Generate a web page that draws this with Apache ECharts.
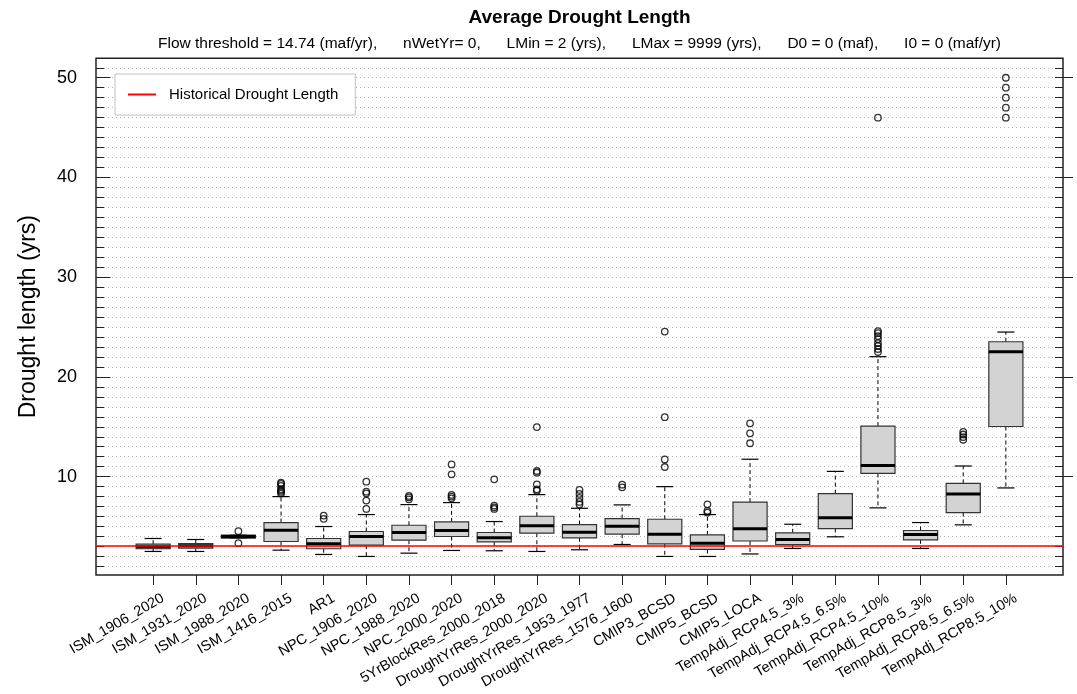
<!DOCTYPE html>
<html>
<head>
<meta charset="utf-8">
<script src="https://cdn.jsdelivr.net/npm/echarts@6/dist/echarts.min.js"></script>
<style>
html,body{margin:0;padding:0;background:#fff;}
#chart{width:1077px;height:694px;}
</style>
</head>
<body>
<div id="chart"></div>
<script>
// ---------------- data ----------------
const categories = [
  'ISM_1906_2020','ISM_1931_2020','ISM_1988_2020','ISM_1416_2015','AR1',
  'NPC_1906_2020','NPC_1988_2020','NPC_2000_2020','5YrBlockRes_2000_2018',
  'DroughtYrRes_2000_2020','DroughtYrRes_1953_1977','DroughtYrRes_1576_1600',
  'CMIP3_BCSD','CMIP5_BCSD','CMIP5_LOCA','TempAdj_RCP4.5_3%','TempAdj_RCP4.5_6.5%',
  'TempAdj_RCP4.5_10%','TempAdj_RCP8.5_3%','TempAdj_RCP8.5_6.5%','TempAdj_RCP8.5_10%'
];
const whiskerLow  = [2.5, 2.5, 3.83, 2.63, 2.2, 2.0, 2.33, 2.6, 2.57, 2.5, 2.67, 3.2, 2.0, 2.0, 2.25, 2.8, 3.97, 6.87, 2.8, 5.17, 8.87];
const quartile1   = [2.77, 2.83, 3.83, 3.5, 2.77, 3.13, 3.63, 4.0, 3.47, 4.33, 3.87, 4.23, 3.27, 2.7, 3.55, 3.2, 4.8, 10.33, 3.67, 6.4, 15.03];
const medians     = [2.97, 3.07, 4.0, 4.63, 3.27, 4.0, 4.4, 4.6, 3.87, 5.07, 4.43, 5.03, 4.23, 3.33, 4.78, 3.7, 5.87, 11.13, 4.2, 8.27, 22.53];
const quartile3   = [3.23, 3.3, 4.13, 5.4, 3.8, 4.5, 5.13, 5.47, 4.4, 6.03, 5.2, 5.8, 5.73, 4.17, 7.45, 4.37, 8.3, 15.07, 4.6, 9.33, 23.53];
const whiskerHigh = [3.8, 3.7, 4.13, 8.0, 5.0, 6.2, 7.2, 7.4, 5.5, 8.2, 6.83, 7.17, 9.0, 6.2, 11.75, 5.23, 10.53, 22.03, 5.4, 11.07, 24.5];
const outliers = [
  [],
  [],
  [4.53, 3.33],
  [8.3, 8.47, 8.6, 8.73, 9.07, 9.27, 9.4],
  [5.77, 6.1],
  [6.77, 7.6, 8.33, 8.5, 9.5],
  [7.73, 7.93, 8.07],
  [7.83, 8.0, 8.17, 10.23, 11.23],
  [6.77, 6.93, 7.1, 9.73],
  [8.6, 8.73, 9.23, 10.4, 10.57, 14.97],
  [7.2, 7.47, 7.87, 8.27, 8.67],
  [8.93, 9.2],
  [10.97, 11.73, 15.97, 24.55],
  [6.4, 6.57, 7.23],
  [13.35, 14.35, 15.35],
  [],
  [],
  [22.5, 22.8, 23.1, 23.4, 23.8, 24.1, 24.4, 24.6, 46.0],
  [],
  [13.7, 13.97, 14.23, 14.5],
  [46, 47, 48, 49, 50]
];
const historicalLength = 3.07;
const yMajorTicks = [10, 20, 30, 40, 50];
const yMinorTicks = [1,2,3,4,5,6,7,8,9,10,11,12,13,14,15,16,17,18,19,20,21,22,23,24,25,26,27,28,29,30,31,32,33,34,35,36,37,38,39,40,41,42,43,44,45,46,47,48,49,50,51];
const titleText = 'Average Drought Length';
const subtitleText = 'Flow threshold = 14.74 (maf/yr),      nWetYr= 0,      LMin = 2 (yrs),      LMax = 9999 (yrs),      D0 = 0 (maf),      I0 = 0 (maf/yr)';
const yAxisTitle = 'Drought length (yrs)';
const legendLabel = 'Historical Drought Length';

// ---------------- layout constants ----------------
const X_MIN = -0.34, X_MAX = 22.34;
const Y_MIN = 0.14, Y_MAX = 51.95;
const FONT = '"Liberation Sans", Arial, Helvetica, sans-serif';
const GRID = {left: 96, right: 14, top: 58.3, bottom: 119};
const plotCenterX = GRID.left + (1077 - GRID.left - GRID.right) / 2;

const positions = categories.map((c, i) => i + 1);
const boxData = categories.map((c, i) => [positions[i], whiskerLow[i], quartile1[i], medians[i], quartile3[i], whiskerHigh[i]]);
const outlierData = [];
outliers.forEach((arr, i) => arr.forEach(v => outlierData.push([positions[i], v])));

const chart = echarts.init(document.getElementById('chart'), null, {renderer: 'canvas'});

const yBase = {type: 'value', min: Y_MIN, max: Y_MAX, gridIndex: 0};

const option = {
  animation: false,
  backgroundColor: '#ffffff',
  textStyle: {fontFamily: FONT},
  graphic: [
    {type: 'text', x: plotCenterX, y: 18, z: 100,
     style: {text: titleText, fontFamily: FONT, fontSize: 19, fontWeight: 'bold', fill: '#000', align: 'center', verticalAlign: 'middle'}},
    {type: 'text', x: plotCenterX, y: 44, z: 100,
     style: {text: subtitleText, fontFamily: FONT, fontSize: 15.5, fill: '#000', align: 'center', verticalAlign: 'middle'}}
  ],
  legend: {
    data: [legendLabel],
    left: 115, top: 74,
    orient: 'horizontal',
    padding: [13, 17, 13, 13],
    backgroundColor: '#ffffff',
    borderColor: '#c0c0c0',
    borderWidth: 1,
    borderRadius: 0,
    icon: 'rect',
    itemWidth: 28,
    itemHeight: 2,
    selectedMode: false,
    z: 20,
    textStyle: {fontFamily: FONT, fontSize: 15, color: '#000', padding: [0, 0, 0, 8]}
  },
  grid: Object.assign({show: true, borderColor: '#222', borderWidth: 1.5, backgroundColor: 'transparent', containLabel: false}, GRID),
  xAxis: [{
    type: 'value', min: X_MIN, max: X_MAX,
    axisLine: {show: false},
    axisTick: {show: true, customValues: positions, length: 10, lineStyle: {color: '#222', width: 1}},
    axisLabel: {
      customValues: positions, rotate: 30, margin: 28,
      align: 'right', verticalAlign: 'middle',
      padding: [0, -11.5, 0, 0],
      fontFamily: FONT, fontSize: 14.5, color: '#000',
      formatter: v => categories[Math.round(v) - 1] || ''
    },
    splitLine: {show: false}
  }],
  yAxis: [
    Object.assign({}, yBase, {
      position: 'left',
      name: yAxisTitle, nameLocation: 'middle', nameGap: 56, nameRotate: 90,
      nameTextStyle: {fontFamily: FONT, fontSize: 23, color: '#000'},
      axisLine: {show: false},
      axisTick: {show: true, customValues: yMajorTicks, length: 11, lineStyle: {color: '#222', width: 1}},
      axisLabel: {customValues: yMajorTicks, fontFamily: FONT, fontSize: 18, color: '#000', margin: 19},
      splitLine: {show: false}
    }),
    Object.assign({}, yBase, {
      position: 'left',
      axisLine: {show: false},
      axisTick: {show: true, inside: true, customValues: yMinorTicks, length: 8, lineStyle: {color: '#222', width: 1}},
      axisLabel: {show: false},
      splitLine: {show: true, lineStyle: {color: '#b4b4b4', width: 1, type: [1, 3]}}
    }),
    Object.assign({}, yBase, {
      position: 'right',
      axisLine: {show: false},
      axisTick: {show: true, customValues: yMajorTicks, length: 10, lineStyle: {color: '#222', width: 1}},
      axisLabel: {show: false},
      splitLine: {show: false}
    }),
    Object.assign({}, yBase, {
      position: 'right',
      axisLine: {show: false},
      axisTick: {show: true, inside: true, customValues: yMinorTicks, length: 8, lineStyle: {color: '#222', width: 1}},
      axisLabel: {show: false},
      splitLine: {show: false}
    })
  ],
  series: [
    {
      type: 'custom',
      name: 'boxes',
      xAxisIndex: 0, yAxisIndex: 0,
      z: 3,
      encode: {x: 0, y: [1, 2, 3, 4, 5]},
      data: boxData,
      renderItem: function (params, api) {
        const x = api.value(0);
        const pLo = api.coord([x, api.value(1)]);
        const pQ1 = api.coord([x, api.value(2)]);
        const pMed = api.coord([x, api.value(3)]);
        const pQ3 = api.coord([x, api.value(4)]);
        const pHi = api.coord([x, api.value(5)]);
        const bw = api.size([0.8, 0])[0];
        const cw = bw * 0.5;
        const cx = pLo[0];
        const stroke = '#000';
        const children = [];
        if (pHi[1] < pQ3[1] - 0.5) {
          children.push({type: 'line', shape: {x1: cx, y1: pQ3[1], x2: cx, y2: pHi[1]}, style: {stroke, lineWidth: 1, lineDash: [4, 3]}});
        }
        if (pLo[1] > pQ1[1] + 0.5) {
          children.push({type: 'line', shape: {x1: cx, y1: pQ1[1], x2: cx, y2: pLo[1]}, style: {stroke, lineWidth: 1, lineDash: [4, 3]}});
        }
        children.push({type: 'line', shape: {x1: cx - cw / 2, y1: pHi[1], x2: cx + cw / 2, y2: pHi[1]}, style: {stroke, lineWidth: 1.2}});
        children.push({type: 'line', shape: {x1: cx - cw / 2, y1: pLo[1], x2: cx + cw / 2, y2: pLo[1]}, style: {stroke, lineWidth: 1.2}});
        children.push({type: 'rect', shape: {x: cx - bw / 2, y: pQ3[1], width: bw, height: Math.max(pQ1[1] - pQ3[1], 0.5)},
          style: {fill: '#d3d3d3', stroke: '#333', lineWidth: 1.2}});
        children.push({type: 'line', shape: {x1: cx - bw / 2, y1: pMed[1], x2: cx + bw / 2, y2: pMed[1]}, style: {stroke, lineWidth: 3}});
        return {type: 'group', children};
      }
    },
    {
      type: 'scatter',
      name: 'outliers',
      xAxisIndex: 0, yAxisIndex: 0,
      z: 4,
      symbol: 'circle',
      symbolSize: 6.5,
      itemStyle: {color: 'rgba(0,0,0,0)', borderColor: '#000', borderWidth: 1.3},
      data: outlierData
    },
    {
      type: 'line',
      name: legendLabel,
      xAxisIndex: 0, yAxisIndex: 0,
      z: 6,
      color: '#ff0000',
      itemStyle: {color: '#ff0000'},
      lineStyle: {color: '#ff0000', width: 1.5},
      data: [],
      markLine: {
        silent: true,
        symbol: ['none', 'none'],
        label: {show: false},
        lineStyle: {color: '#ff0000', width: 1.5, type: 'solid'},
        data: [{yAxis: historicalLength}]
      }
    }
  ]
};
chart.setOption(option);
</script>
</body>
</html>
